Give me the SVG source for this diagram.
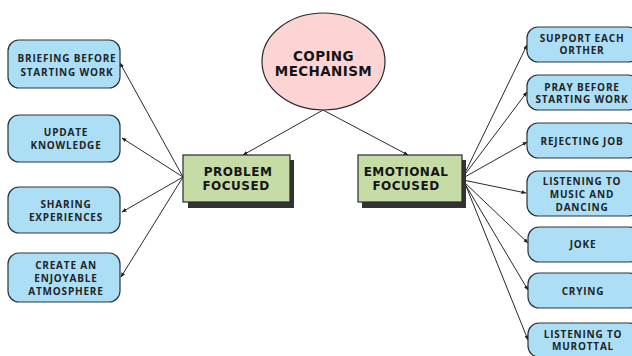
<svg xmlns="http://www.w3.org/2000/svg" width="632" height="356" viewBox="0 0 632 356">
<defs>
<style>
.leaf{fill:#acdff5;stroke:#2a3438;stroke-width:1.2}
.mid{fill:#c6dca6;stroke:#2a2a2a;stroke-width:1.2}
.shadow{fill:#333}
.t{font-family:"Open Sans","Liberation Sans",sans-serif;font-weight:bold;font-size:10px;letter-spacing:0.8px;fill:#1e2326;text-anchor:middle}
.tb{font-family:"DejaVu Sans","Liberation Sans",sans-serif;font-weight:bold;font-size:12px;letter-spacing:0.5px;fill:#151515;text-anchor:middle}
.tc{font-family:"DejaVu Sans","Liberation Sans",sans-serif;font-weight:bold;font-size:13.5px;letter-spacing:0.4px;fill:#151515;text-anchor:middle}
.c{stroke:#2a2a2a;stroke-width:1;fill:none;marker-end:url(#ah)}
</style>
<marker id="ah" viewBox="0 0 10 10" refX="9" refY="5" markerWidth="5" markerHeight="5" orient="auto" markerUnits="userSpaceOnUse">
<path d="M0,1 L10,5 L0,9 z" fill="#222"/>
</marker>
</defs>
<rect width="632" height="356" fill="#fff"/>
<g id="connectors">
<line class="c" x1="323" y1="110" x2="243" y2="155"/>
<line class="c" x1="323" y1="110" x2="408" y2="155"/>
<line class="c" x1="183" y1="177" x2="120" y2="63"/>
<line class="c" x1="183" y1="177" x2="122" y2="138"/>
<line class="c" x1="183" y1="177" x2="122" y2="212"/>
<line class="c" x1="183" y1="177" x2="121" y2="277"/>
<line class="c" x1="463" y1="177" x2="527" y2="45"/>
<line class="c" x1="463" y1="177" x2="527" y2="92"/>
<line class="c" x1="463" y1="178" x2="527" y2="142"/>
<line class="c" x1="463" y1="180" x2="526" y2="193"/>
<line class="c" x1="464" y1="182" x2="528" y2="243"/>
<line class="c" x1="465" y1="184" x2="528" y2="290"/>
<line class="c" x1="466" y1="186" x2="528" y2="340"/>
</g>
<g id="coping">
<ellipse cx="323.5" cy="61.5" rx="61.5" ry="48.5" fill="#fcd4d4" stroke="#2a2a2a" stroke-width="1.2"/>
<text class="tc" x="323.5" y="61">COPING</text>
<text class="tc" x="323.5" y="75.5">MECHANISM</text>
</g>
<g id="problem">
<rect class="shadow" x="188" y="160" width="106" height="48"/>
<rect class="mid" x="183" y="155" width="107" height="47"/>
<text class="tb" x="238" y="176">PROBLEM</text>
<text class="tb" x="236" y="189.5">FOCUSED</text>
</g>
<g id="emotional">
<rect class="shadow" x="362" y="160" width="104" height="48"/>
<rect class="mid" x="358" y="155" width="104" height="47"/>
<text class="tb" x="406" y="176">EMOTIONAL</text>
<text class="tb" x="406" y="189.5">FOCUSED</text>
</g>
<g id="briefing">
<rect class="leaf" x="8" y="40" width="112" height="48" rx="11"/>
<text class="t" x="67" y="61.5">BRIEFING BEFORE</text>
<text class="t" x="67" y="75.5">STARTING WORK</text>
</g>
<g id="update">
<rect class="leaf" x="8" y="115" width="112" height="47" rx="11"/>
<text class="t" x="66" y="135.5">UPDATE</text>
<text class="t" x="66" y="149">KNOWLEDGE</text>
</g>
<g id="sharing">
<rect class="leaf" x="8" y="187" width="112" height="46" rx="11"/>
<text class="t" x="66" y="207.5">SHARING</text>
<text class="t" x="66" y="221">EXPERIENCES</text>
</g>
<g id="create">
<rect class="leaf" x="8" y="253" width="112" height="49" rx="11"/>
<text class="t" x="66" y="268.5">CREATE AN</text>
<text class="t" x="66" y="281.5">ENJOYABLE</text>
<text class="t" x="66" y="294.5">ATMOSPHERE</text>
</g>
<g id="support">
<rect class="leaf" x="527" y="27" width="112" height="35" rx="11"/>
<text class="t" x="582" y="41.5">SUPPORT EACH</text>
<text class="t" x="582" y="54">ORTHER</text>
</g>
<g id="pray">
<rect class="leaf" x="527" y="75" width="112" height="35" rx="11"/>
<text class="t" x="582" y="90.5">PRAY BEFORE</text>
<text class="t" x="582" y="103">STARTING WORK</text>
</g>
<g id="rejecting">
<rect class="leaf" x="527" y="123" width="112" height="35" rx="11"/>
<text class="t" x="582" y="144.5">REJECTING JOB</text>
</g>
<g id="music">
<rect class="leaf" x="527" y="171" width="112" height="45" rx="11"/>
<text class="t" x="582" y="184.5">LISTENING TO</text>
<text class="t" x="582" y="197.5">MUSIC AND</text>
<text class="t" x="582" y="210.5">DANCING</text>
</g>
<g id="joke">
<rect class="leaf" x="528" y="227" width="112" height="35" rx="11"/>
<text class="t" x="583" y="247.5">JOKE</text>
</g>
<g id="crying">
<rect class="leaf" x="528" y="273" width="112" height="35" rx="11"/>
<text class="t" x="583" y="294.5">CRYING</text>
</g>
<g id="murottal">
<rect class="leaf" x="528" y="323" width="112" height="34" rx="11"/>
<text class="t" x="583" y="337.5">LISTENING TO</text>
<text class="t" x="583" y="350">MUROTTAL</text>
</g>
</svg>
